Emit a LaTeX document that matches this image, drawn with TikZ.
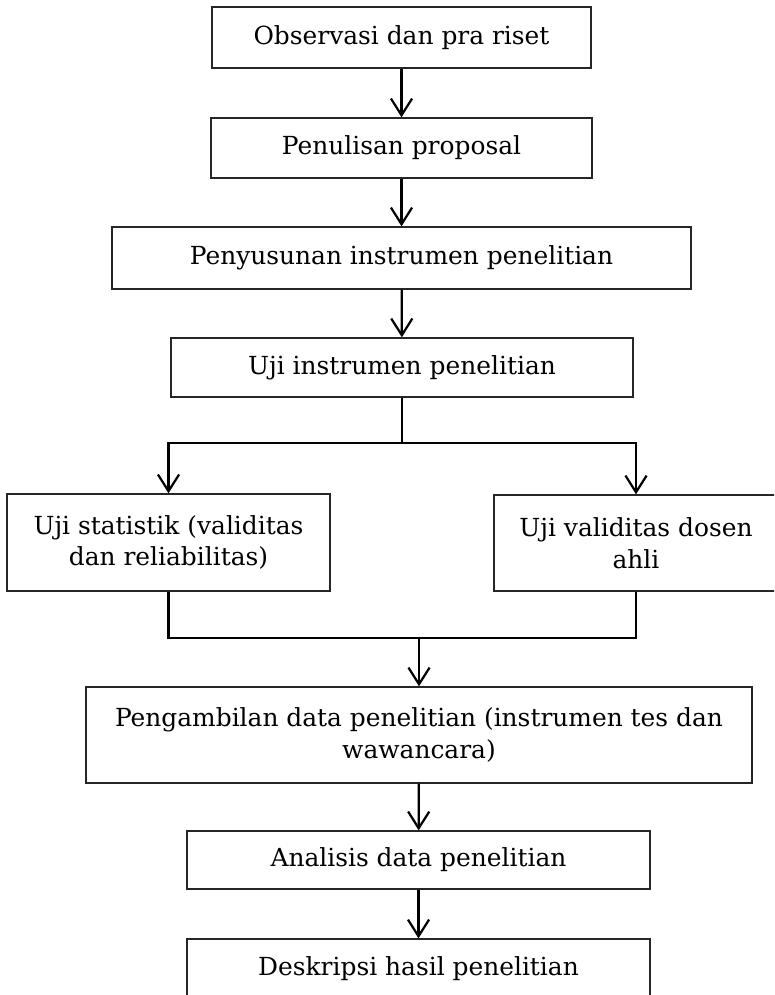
\documentclass[tikz,border=0pt]{standalone}
\usepackage{fontspec}
\setmainfont{DejaVu Serif}
\usetikzlibrary{arrows.meta}

\begin{document}
\begin{tikzpicture}[
    x=0.45pt, y=-0.45pt,
    >={Straight Barb[length=7.5pt,width=9.5pt]},
    phase/.style={
        rectangle,
        draw=black!85,
        line width=0.6pt,
        inner sep=2pt,
        font=\fontsize{11.2}{14.2}\selectfont,
        align=center
    },
    flow/.style={->, line width=1pt},
    link/.style={line width=1pt}
]

% Page frame (last box runs off the bottom edge)
\clip (0,0) rectangle (774,995);

% Main column
\node[phase, minimum width=170.6pt, minimum height=27.5pt] (obs)    at (401.5,37.5) {Observasi dan pra riset};
\node[phase, minimum width=171.5pt, minimum height=27pt]   (prop)   at (401.5,148)  {Penulisan proposal};
\node[phase, minimum width=260.6pt, minimum height=27.9pt] (susun)  at (401.5,258)  {Penyusunan instrumen penelitian};
\node[phase, minimum width=207.9pt, minimum height=26.6pt] (uji)    at (402,367.5)  {Uji instrumen penelitian};
\draw[flow] (obs) -- (prop);
\draw[flow] (prop) -- (susun);
\draw[flow] (susun) -- (uji);

% Two validation branches
\node[phase, minimum width=145.4pt, minimum height=43.7pt] (stat)   at (168.5,542.5) {Uji statistik (validitas\\dan reliabilitas)};
\node[phase, minimum width=127.8pt, minimum height=43.2pt] (dosen)  at (636,543)     {Uji validitas dosen\\ahli};
\coordinate (split) at (uji.south |- 0,443);
\draw[link] (uji.south) -- (split);
\draw[flow] (split) -| (stat.north);
\draw[flow] (split) -| (dosen.north);

% Data collection and analysis
\node[phase, minimum width=299.7pt, minimum height=43.2pt] (ambil)  at (419,735) {Pengambilan data penelitian (instrumen tes dan\\wawancara)};
\node[phase, minimum width=208.4pt, minimum height=26.1pt] (analis) at (418.5,860) {Analisis data penelitian};
\node[phase, minimum width=208.4pt, minimum height=27pt]   (desk)   at (418.5,969) {Deskripsi hasil penelitian};
\coordinate (merge) at (ambil.north |- 0,638);
\draw[link] (stat.south) |- (merge) -| (dosen.south);
\draw[flow] (merge) -- (ambil.north);
\draw[flow] (ambil) -- (analis);
\draw[flow] (analis) -- (desk);

\end{tikzpicture}
\end{document}
